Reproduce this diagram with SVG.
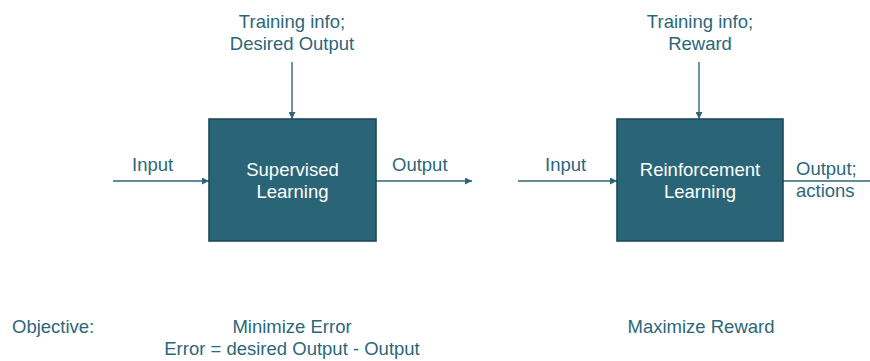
<svg xmlns="http://www.w3.org/2000/svg" width="870" height="361" viewBox="0 0 870 361">
  <defs>
    <marker id="arrow" viewBox="0 0 10 10" refX="10" refY="5" markerWidth="7" markerHeight="7" markerUnits="userSpaceOnUse" orient="auto">
      <path d="M0,0 L10,5 L0,10 Z" fill="#2c6779"/>
    </marker>
    <style>
      .lbl { font-family: "Liberation Sans", Arial, sans-serif; font-size: 18.5px; fill: #2c6779; }
      .box-txt { font-family: "Liberation Sans", Arial, sans-serif; font-size: 18.5px; fill: #ffffff; text-anchor: middle; }
      .box { fill: #2a6477; stroke: #1d4a58; stroke-width: 1.6; }
      .wire { stroke: #2c6779; stroke-width: 1.4; fill: none; }
      .mid { text-anchor: middle; }
    </style>
  </defs>

  <!-- connectors -->
  <g id="connectors">
    <line class="wire" x1="292" y1="62" x2="292" y2="119" marker-end="url(#arrow)"/>
    <line class="wire" x1="113" y1="181" x2="209" y2="181" marker-end="url(#arrow)"/>
    <line class="wire" x1="376" y1="181" x2="472" y2="181" marker-end="url(#arrow)"/>
    <line class="wire" x1="699" y1="62" x2="699" y2="119" marker-end="url(#arrow)"/>
    <line class="wire" x1="518" y1="181" x2="617" y2="181" marker-end="url(#arrow)"/>
    <line class="wire" x1="783" y1="181" x2="870" y2="181"/>
  </g>

  <!-- supervised learning block -->
  <g id="supervised">
    <rect class="box" x="209" y="119" width="167" height="122"/>
    <text class="box-txt" x="292.5" y="175.5">Supervised</text>
    <text class="box-txt" x="292.5" y="197.5">Learning</text>
  </g>

  <!-- reinforcement learning block -->
  <g id="reinforcement">
    <rect class="box" x="617" y="119" width="166" height="122"/>
    <text class="box-txt" x="700" y="175.5">Reinforcement</text>
    <text class="box-txt" x="700" y="197.5">Learning</text>
  </g>

  <!-- signal labels -->
  <g id="sup-labels">
    <text class="lbl mid" x="292" y="28">Training info;</text>
    <text class="lbl mid" x="292" y="50">Desired Output</text>
    <text class="lbl" x="132" y="171">Input</text>
    <text class="lbl" x="392" y="171">Output</text>
  </g>
  <g id="rl-labels">
    <text class="lbl mid" x="700" y="28">Training info;</text>
    <text class="lbl mid" x="700" y="50">Reward</text>
    <text class="lbl" x="545" y="171">Input</text>
    <text class="lbl" x="796" y="175">Output;</text>
    <text class="lbl" x="796" y="197">actions</text>
  </g>

  <!-- objectives -->
  <g id="objectives">
    <text class="lbl" x="12" y="333">Objective:</text>
    <text class="lbl mid" x="292" y="333">Minimize Error</text>
    <text class="lbl mid" x="292" y="355">Error = desired Output - Output</text>
    <text class="lbl mid" x="701" y="333">Maximize Reward</text>
  </g>
</svg>
